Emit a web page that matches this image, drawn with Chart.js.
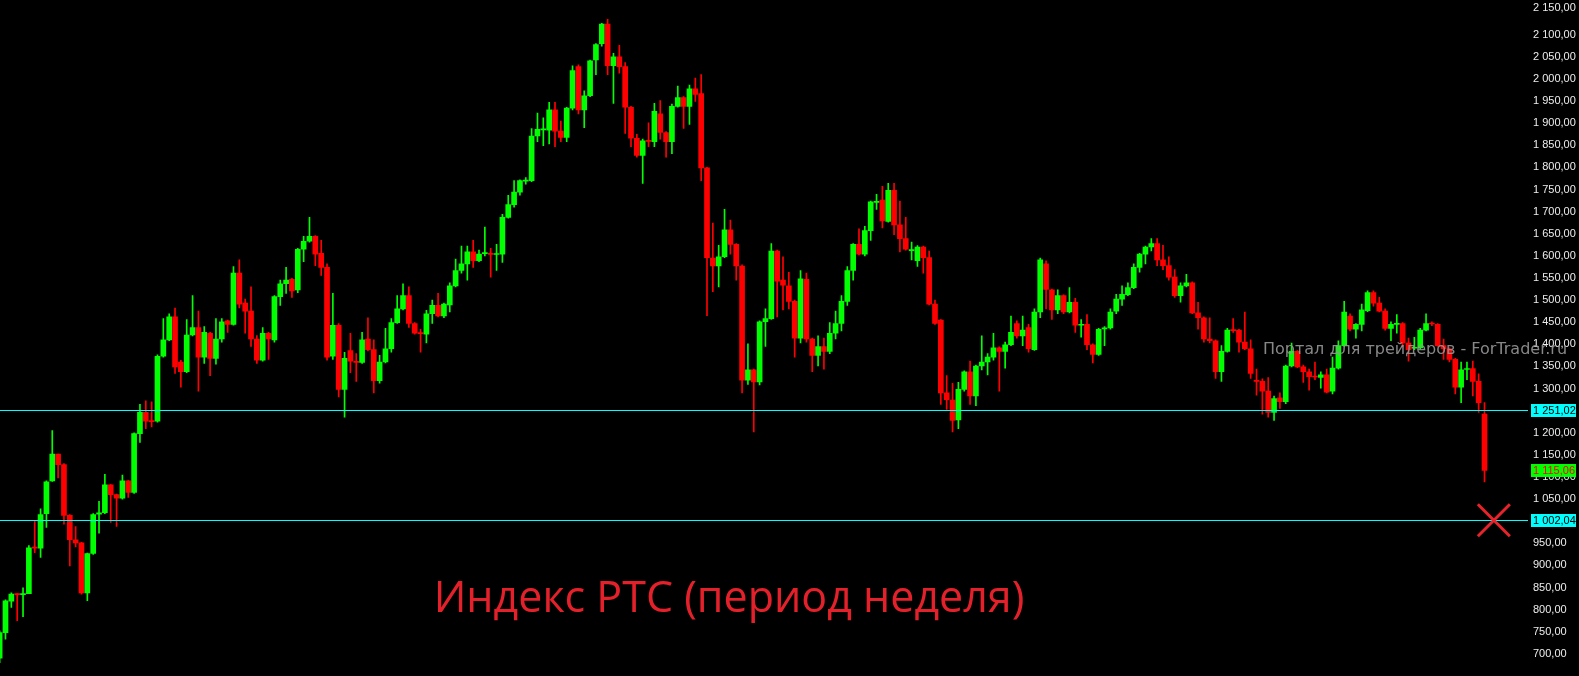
<!DOCTYPE html>
<html>
<head>
<meta charset="utf-8">
<script src="https://cdn.jsdelivr.net/npm/chart.js@4.4.0/dist/chart.umd.min.js"></script>
<style>
html, body { margin: 0; padding: 0; background: #000; }
#wrap { position: relative; width: 1579px; height: 676px; }
</style>
</head>
<body>
<div id="wrap"><canvas id="myChart"></canvas></div>
<script>
// weekly candles, oldest first
const opens = [690,748,819,836,834,836,941,939,1017,1091,1152,1128,1013,958,951,838,927,1016,1019,1082,
1060,1052,1091,1065,1198,1246,1227,1226,1373,1410,1462,1360,1338,1421,1438,1371,1425,1368,1412,1453,
1445,1561,1493,1475,1412,1364,1425,1410,1508,1537,1547,1523,1615,1633,1644,1606,1574,1373,1443,1298,
1386,1361,1359,1412,1388,1318,1360,1390,1449,1480,1510,1447,1426,1423,1469,1488,1464,1489,1532,1567,
1582,1609,1589,1605,1606,1603,1604,1687,1716,1744,1769,1770,1871,1885,1884,1930,1882,1868,1934,2028,
1930,1962,2043,2080,2124,2030,2050,2028,1936,1866,1827,1861,1858,1921,1879,1858,1938,1958,1938,1978,
1967,1799,1595,1577,1598,1659,1626,1577,1319,1342,1315,1451,1458,1611,1545,1532,1497,1414,1547,1412,
1375,1395,1384,1425,1447,1497,1567,1626,1604,1657,1721,1726,1678,1748,1670,1639,1612,1589,1620,1596,
1491,1455,1290,1274,1229,1298,1338,1283,1351,1360,1371,1392,1384,1399,1447,1419,1438,1388,1473,1582,
1523,1478,1510,1473,1495,1443,1445,1399,1377,1435,1437,1475,1502,1512,1528,1574,1604,1620,1628,1591,
1578,1552,1510,1532,1539,1471,1460,1412,1408,1338,1384,1433,1432,1405,1390,1318,1316,1294,1246,1279,
1270,1351,1384,1349,1338,1328,1325,1331,1294,1346,1397,1464,1434,1445,1476,1517,1493,1475,1436,1445,
1447,1403,1391,1392,1432,1448,1445,1397,1390,1366,1303,1343,1345,1316,1242];
const highs = [752,822,838,836,849,945,1001,1028,1091,1205,1152,1130,1015,988,952,928,1017,1045,1106,1083,
1061,1104,1092,1200,1264,1272,1270,1376,1458,1469,1482,1364,1456,1510,1475,1440,1427,1458,1458,1455,
1576,1591,1502,1530,1420,1438,1427,1510,1545,1574,1549,1617,1644,1687,1646,1635,1582,1515,1447,1382,
1425,1379,1427,1460,1410,1375,1436,1458,1510,1537,1530,1449,1434,1477,1500,1515,1493,1539,1593,1622,
1622,1635,1613,1665,1617,1626,1694,1737,1770,1772,1777,1888,1923,1912,1947,1947,1905,1936,2030,2032,
1973,2043,2080,2126,2135,2058,2076,2037,1938,1875,1864,1901,1945,1951,1881,1943,1984,1960,1986,2002,
2010,1800,1674,1624,1705,1681,1628,1580,1401,1344,1453,1480,1628,1613,1598,1563,1500,1567,1561,1414,
1419,1414,1449,1475,1510,1576,1628,1661,1667,1724,1739,1757,1764,1764,1724,1687,1631,1623,1622,1611,
1500,1456,1329,1312,1314,1340,1362,1353,1419,1379,1425,1394,1405,1464,1453,1464,1445,1480,1595,1589,
1525,1523,1512,1528,1504,1456,1467,1401,1436,1440,1480,1513,1532,1539,1582,1606,1622,1639,1639,1624,
1598,1569,1539,1558,1541,1495,1462,1460,1410,1397,1436,1458,1434,1473,1410,1344,1322,1325,1283,1290,
1353,1403,1386,1353,1344,1360,1338,1344,1371,1408,1497,1469,1447,1491,1521,1521,1506,1480,1451,1467,
1449,1414,1416,1436,1469,1451,1447,1412,1392,1368,1360,1360,1362,1333,1268];
const lows = [680,733,805,775,784,836,929,918,986,1090,1098,993,899,942,835,820,925,973,1017,997,
988,1050,1054,1063,1178,1209,1213,1224,1371,1408,1334,1303,1336,1419,1294,1357,1329,1355,1405,1427,
1443,1482,1425,1395,1357,1362,1366,1405,1488,1515,1506,1517,1587,1631,1578,1556,1364,1366,1281,1235,
1336,1316,1357,1385,1290,1312,1358,1382,1447,1478,1438,1423,1382,1403,1447,1462,1460,1473,1530,1561,
1545,1574,1587,1600,1552,1567,1585,1685,1710,1737,1762,1768,1858,1849,1853,1847,1858,1858,1930,1921,
1890,1960,2010,2074,2010,1945,2013,1877,1847,1823,1764,1847,1847,1864,1823,1831,1936,1888,1897,1949,
1770,1465,1519,1530,1596,1604,1545,1290,1309,1202,1308,1395,1456,1462,1478,1480,1371,1403,1405,1338,
1351,1344,1379,1412,1430,1488,1545,1602,1600,1635,1705,1663,1676,1648,1609,1613,1591,1576,1561,1489,
1445,1264,1253,1202,1209,1294,1264,1261,1342,1331,1364,1294,1346,1397,1414,1397,1382,1386,1460,1480,
1456,1469,1469,1471,1427,1416,1388,1358,1375,1397,1434,1469,1488,1510,1526,1563,1582,1611,1578,1569,
1545,1506,1495,1530,1469,1434,1405,1403,1323,1316,1382,1427,1382,1388,1323,1285,1242,1235,1228,1255,
1266,1349,1347,1314,1296,1320,1301,1290,1288,1344,1395,1430,1414,1430,1474,1486,1473,1432,1408,1425,
1395,1362,1388,1390,1430,1442,1395,1366,1360,1288,1268,1320,1283,1246,1089];
const closes = [748,820,835,834,836,940,939,1015,1089,1152,1128,1013,958,951,838,927,1015,1019,1082,1060,
1052,1091,1065,1198,1246,1226,1225,1373,1410,1462,1349,1338,1421,1438,1371,1427,1368,1412,1451,1445,
1561,1491,1475,1412,1364,1425,1412,1508,1537,1545,1521,1615,1633,1644,1604,1574,1371,1443,1298,1368,
1362,1359,1410,1388,1318,1360,1390,1449,1480,1510,1447,1425,1424,1469,1488,1464,1491,1532,1567,1582,
1609,1589,1604,1607,1603,1605,1687,1716,1744,1770,1771,1871,1886,1887,1930,1882,1868,1934,2019,1930,
1962,2041,2078,2124,2030,2050,2028,1936,1866,1827,1860,1859,1927,1879,1858,1938,1958,1938,1978,1965,
1799,1596,1577,1598,1659,1626,1577,1319,1342,1315,1451,1458,1611,1543,1534,1497,1414,1548,1412,1375,
1395,1384,1425,1447,1497,1567,1626,1604,1657,1722,1723,1679,1748,1670,1639,1615,1614,1620,1596,1491,
1447,1290,1275,1228,1298,1338,1283,1351,1360,1371,1392,1384,1399,1427,1419,1432,1390,1473,1591,1524,
1478,1510,1473,1495,1443,1445,1399,1377,1434,1437,1473,1502,1513,1528,1574,1604,1620,1628,1591,1578,
1552,1510,1532,1539,1471,1460,1412,1408,1338,1384,1432,1431,1405,1390,1334,1316,1294,1246,1277,1270,
1351,1384,1349,1338,1327,1326,1331,1292,1346,1397,1473,1434,1445,1478,1517,1493,1475,1436,1445,1447,
1403,1388,1393,1432,1447,1446,1397,1390,1366,1303,1342,1345,1316,1268,1115.06];

const tickValues = [700,750,800,850,900,950,1000,1050,1100,1150,1200,1250,1300,1350,1400,1450,
1500,1550,1600,1650,1700,1750,1800,1850,1900,1950,2000,2050,2100,2150];
const levelLines = [1251.02, 1002.04];
const lastPrice = 1115.06;
const targetPrice = 1002.04;
const targetSlot = 255.6;
const chartTitle = 'Индекс РТС (период неделя)';
const watermark = 'Портал для трейдеров - ForTrader.ru';

const UP = '#00ff00';
const DOWN = '#ff0000';
const LABEL_FONT = '11px "Liberation Sans", Arial, sans-serif';

function fmtPrice(v) {
    const parts = Number(v).toFixed(2).split('.');
    const whole = parts[0].replace(/\B(?=(\d{3})+(?!\d))/g, ' ');
    return whole + ',' + parts[1];
}

const idx = opens.map((_, i) => i);
const candleColors = idx.map(i => closes[i] >= opens[i] ? UP : DOWN);

const overlay = {
    id: 'overlay',
    afterDatasetsDraw(chart) {
        const c = chart.ctx;
        const area = chart.chartArea;
        const ys = chart.scales.y;
        const xs = chart.scales.x;
        c.save();
        // horizontal levels
        c.strokeStyle = '#00ffff';
        c.lineWidth = 1;
        levelLines.forEach(v => {
            const y = Math.round(ys.getPixelForValue(v)) + 0.5;
            c.beginPath();
            c.moveTo(area.left, y);
            c.lineTo(area.right, y);
            c.stroke();
        });
        // target cross
        const cx = xs.getPixelForValue(targetSlot);
        const cy = ys.getPixelForValue(targetPrice);
        c.strokeStyle = '#e8232b';
        c.lineWidth = 3;
        c.beginPath();
        c.moveTo(cx - 16, cy - 16); c.lineTo(cx + 16, cy + 16);
        c.moveTo(cx + 16, cy - 16); c.lineTo(cx - 16, cy + 16);
        c.stroke();
        // price tags on the axis
        c.font = LABEL_FONT;
        c.textBaseline = 'middle';
        c.textAlign = 'left';
        const tags = levelLines.map(v => ({v: v, bg: '#00ffff', fg: '#000000'}))
            .concat([{v: lastPrice, bg: '#00ff00', fg: '#ff0000'}]);
        tags.forEach(t => {
            const y = Math.round(ys.getPixelForValue(t.v));
            c.fillStyle = t.bg;
            c.fillRect(ys.left + 3, y - 6, 45, 13);
            c.fillStyle = t.fg;
            c.fillText(fmtPrice(t.v), ys.left + 5, y + 0.5);
        });
        // top tick label pushed inside the canvas
        c.fillStyle = '#ececec';
        c.fillText(fmtPrice(2150), ys.left + 5, 8);
        // watermark
        c.font = '16px "DejaVu Sans", Verdana, sans-serif';
        c.fillStyle = 'rgba(150,150,150,0.9)';
        c.textBaseline = 'alphabetic';
        c.fillText(watermark, 1263, 354);
        // title
        c.font = '43px "Open Sans", "Noto Sans", sans-serif';
        c.fillStyle = '#e4212b';
        c.textAlign = 'center';
        c.fillText(chartTitle, 729, 612);
        c.restore();
    }
};

const ctx = document.getElementById('myChart');
new Chart(ctx, {
    type: 'bar',
    data: {
        datasets: [{
            label: 'body',
            data: idx.map(i => ({x: i, y: [opens[i], closes[i]]})),
            backgroundColor: candleColors,
            borderWidth: 0,
            barThickness: 5,
            minBarLength: 1,
            grouped: false
        }, {
            label: 'wick',
            data: idx.map(i => ({x: i, y: [lows[i], highs[i]]})),
            backgroundColor: candleColors,
            borderWidth: 0,
            barThickness: 1,
            minBarLength: 1,
            grouped: false
        }]
    },
    options: {
        responsive: true,
        maintainAspectRatio: false,
        animation: false,
        events: [],
        layout: { padding: 0 },
        plugins: {
            legend: { display: false },
            tooltip: { enabled: false }
        },
        scales: {
            x: {
                type: 'linear',
                display: false,
                offset: false,
                min: 0.06,
                max: 261.44
            },
            y: {
                type: 'linear',
                position: 'right',
                min: 676.1,
                max: 2152.4,
                grid: { display: false, drawTicks: false },
                border: { display: false },
                afterBuildTicks: (s) => { s.ticks = tickValues.map(v => ({value: v})); },
                afterFit: (s) => { s.width = 51; },
                ticks: {
                    padding: 5,
                    autoSkip: false,
                    font: { family: '"Liberation Sans", Arial, sans-serif', size: 11 },
                    color: (c) => (c.tick && c.tick.value === 2150) ? 'rgba(0,0,0,0)' : '#ececec',
                    callback: (v) => fmtPrice(v)
                }
            }
        }
    },
    plugins: [overlay]
});
</script>
</body>
</html>
